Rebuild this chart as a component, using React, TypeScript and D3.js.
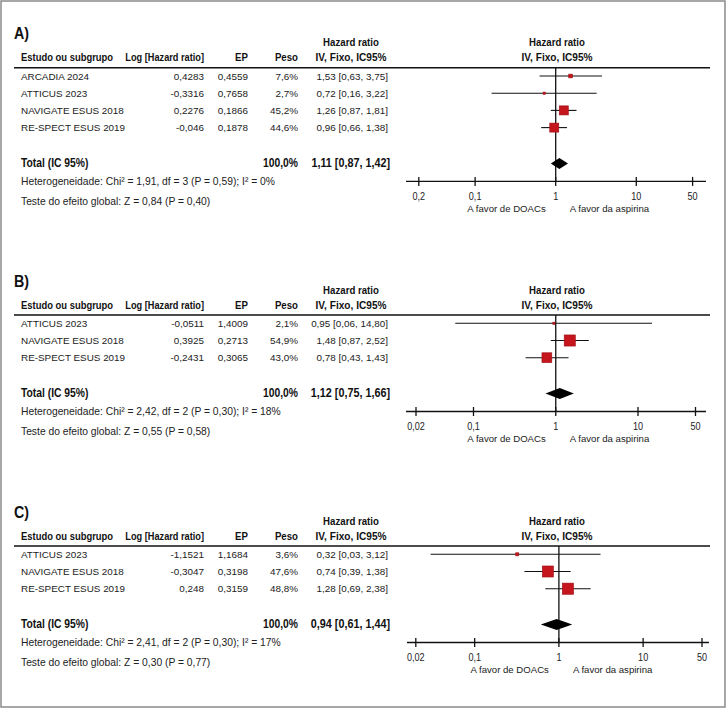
import React from 'react';
import * as d3 from 'd3';

// forest plot data, one inner list per panel (A, B, C)
const panelLabels = ['A)', 'B)', 'C)'];
const studyNames = [
  ['ARCADIA 2024', 'ATTICUS 2023', 'NAVIGATE ESUS 2018', 'RE-SPECT ESUS 2019'],
  ['ATTICUS 2023', 'NAVIGATE ESUS 2018', 'RE-SPECT ESUS 2019'],
  ['ATTICUS 2023', 'NAVIGATE ESUS 2018', 'RE-SPECT ESUS 2019'],
];
const logHr = [
  ['0,4283', '-0,3316', '0,2276', '-0,046'],
  ['-0,0511', '0,3925', '-0,2431'],
  ['-1,1521', '-0,3047', '0,248'],
];
const ep = [
  [0.4559, 0.7658, 0.1866, 0.1878],
  [1.4009, 0.2713, 0.3065],
  [1.1684, 0.3198, 0.3159],
];
const peso = [
  [7.6, 2.7, 45.2, 44.6],
  [2.1, 54.9, 43.0],
  [3.6, 47.6, 48.8],
];
const hr = [
  [1.53, 0.72, 1.26, 0.96],
  [0.95, 1.48, 0.78],
  [0.32, 0.74, 1.28],
];
const ciLow = [
  [0.63, 0.16, 0.87, 0.66],
  [0.06, 0.87, 0.43],
  [0.03, 0.39, 0.69],
];
const ciHigh = [
  [3.75, 3.22, 1.81, 1.38],
  [14.8, 2.52, 1.43],
  [3.12, 1.38, 2.38],
];
const totalHr = [1.11, 1.12, 0.94];
const totalLow = [0.87, 0.75, 0.61];
const totalHigh = [1.42, 1.66, 1.44];
const hetChi = ['1,91', '2,42', '2,41'];
const hetDf = ['3', '2', '2'];
const hetP = ['0,59', '0,30', '0,30'];
const hetI2 = ['0%', '18%', '17%'];
const zValue = ['0,84', '0,55', '0,30'];
const zP = ['0,40', '0,58', '0,77'];
const tickValues = [0.02, 0.1, 1, 10, 50];
const tickLabels = [
  ['0,2', '0,1', '1', '10', '50'],
  ['0,02', '0,1', '1', '10', '50'],
  ['0,02', '0,1', '1', '10', '50'],
];

// layout
const panelTop = [67.7, 315, 546];
const xRanges = [[418.8, 692.6], [416, 695.5], [415.8, 702]];
const axisExtent = [[406, 706], [406, 706], [407, 709]];
const markerMax = [13.5, 15, 16];
const rowStep = 17.2;

const bodyFont = "'Liberation Sans', Arial, sans-serif";
const textCol = '#222';
const squeeze = 0.84; // no condensed face installed, so narrow the glyphs

const f2 = (v: number) => v.toFixed(2).replace('.', ',');
const f4 = (v: number) => v.toFixed(4).replace('.', ',');
const f1 = (v: number) => v.toFixed(1).replace('.', ',') + '%';

type NT = { x: number; y: number; anchor?: string; size?: number; bold?: boolean; sx?: number; children: React.ReactNode };
const Narrow = ({ x, y, anchor = 'start', size = 11.5, bold = true, sx = squeeze, children }: NT) => (
  <text
    transform={`translate(${x},${y}) scale(${sx},1)`}
    textAnchor={anchor}
    style={{ fontFamily: bodyFont, fontWeight: bold ? 700 : 400, fontSize: size, fill: bold ? '#111' : textCol }}
  >
    {children}
  </text>
);

const Panel = ({ p }: { p: number }) => {
  const L = panelTop[p];
  const n = studyNames[p].length;
  const x = d3.scaleLog().domain([0.02, 50]).range(xRanges[p]);
  const size = d3.scaleSqrt().domain([0, 100]).range([0, markerMax[p]]);
  const rowY = (i: number) => L + 12 + i * rowStep;
  const totalY = L + 12 + (n + 1) * rowStep + 1;
  const diamondY = totalY - 3.3;
  const axisY = diamondY + 18;
  const hetY = totalY + 18.5;
  const testY = hetY + 19.7;
  const body = { fontFamily: bodyFont, fontSize: 9.9, fill: textCol };
  const note = { fontFamily: bodyFont, fontSize: 10.3, fill: textCol };

  const diamond = d3.line()([
    [x(totalLow[p]), diamondY],
    [x(totalHr[p]), diamondY - 5.5],
    [x(totalHigh[p]), diamondY],
    [x(totalHr[p]), diamondY + 5.5],
  ]) + 'Z';

  return (
    <g>
      <Narrow x={14} y={L - 28.5} size={17}>{panelLabels[p]}</Narrow>
      {/* table header */}
      <Narrow x={351} y={L - 21.5} anchor="middle">Hazard ratio</Narrow>
      <Narrow x={21} y={L - 6.5} sx={0.82}>Estudo ou subgrupo</Narrow>
      <Narrow x={204} y={L - 6.5} anchor="end" sx={0.8}>Log [Hazard ratio]</Narrow>
      <Narrow x={248} y={L - 6.5} anchor="end">EP</Narrow>
      <Narrow x={298} y={L - 6.5} anchor="end">Peso</Narrow>
      <Narrow x={351} y={L - 6.5} anchor="middle" sx={0.88}>IV, Fixo, IC95%</Narrow>
      <Narrow x={557} y={L - 21.5} anchor="middle">Hazard ratio</Narrow>
      <Narrow x={557} y={L - 6.5} anchor="middle" sx={0.88}>IV, Fixo, IC95%</Narrow>
      <line x1={14} x2={710} y1={L} y2={L} stroke="#111" strokeWidth={1.5} />

      {studyNames[p].map((name, i) => (
        <g key={name}>
          <text x={21} y={rowY(i)} style={body}>{name}</text>
          <text x={204} y={rowY(i)} textAnchor="end" style={body}>{logHr[p][i]}</text>
          <text x={248} y={rowY(i)} textAnchor="end" style={body}>{f4(ep[p][i])}</text>
          <text x={298} y={rowY(i)} textAnchor="end" style={body}>{f1(peso[p][i])}</text>
          <text x={388} y={rowY(i)} textAnchor="end" style={body}>
            {`${f2(hr[p][i])} [${f2(ciLow[p][i])}, ${f2(ciHigh[p][i])}]`}
          </text>
        </g>
      ))}

      <Narrow x={21} y={totalY} size={12} sx={0.86}>Total (IC 95%)</Narrow>
      <Narrow x={298} y={totalY} anchor="end" size={12} sx={0.86}>100,0%</Narrow>
      <Narrow x={390} y={totalY} anchor="end" size={12} sx={0.9}>
        {`${f2(totalHr[p])} [${f2(totalLow[p])}, ${f2(totalHigh[p])}]`}
      </Narrow>
      <text x={21} y={hetY} style={note}>
        {`Heterogeneidade: Chi² = ${hetChi[p]}, df = ${hetDf[p]} (P = ${hetP[p]}); I² = ${hetI2[p]}`}
      </text>
      <text x={21} y={testY} style={note}>
        {`Teste do efeito global: Z = ${zValue[p]} (P = ${zP[p]})`}
      </text>

      {/* forest */}
      <line x1={x(1)} x2={x(1)} y1={L} y2={axisY} stroke="#111" strokeWidth={1.3} />
      {studyNames[p].map((name, i) => {
        const cy = rowY(i) - 3.7;
        const s = Math.max(size(peso[p][i]), 2);
        return (
          <g key={'m' + name}>
            <line x1={x(ciLow[p][i])} x2={x(ciHigh[p][i])} y1={cy} y2={cy} stroke="#111" strokeWidth={1.1} />
            <rect x={x(hr[p][i]) - s / 2} y={cy - s / 2} width={s} height={s}
              fill="#c4161c" stroke="#9c1015" strokeWidth={0.6} />
          </g>
        );
      })}
      <path d={diamond} fill="#000" />

      <line x1={axisExtent[p][0]} x2={axisExtent[p][1]} y1={axisY} y2={axisY} stroke="#111" strokeWidth={1.3} />
      {tickValues.map((t) => (
        <line key={'t' + t} x1={x(t)} x2={x(t)} y1={axisY - 4.5} y2={axisY + 4.5} stroke="#111" strokeWidth={1.3} />
      ))}
      {tickValues.map((t, i) => (
        <Narrow key={'l' + t} x={x(t)} y={axisY + 18.5} anchor="middle" size={10.8} bold={false}>
          {tickLabels[p][i]}
        </Narrow>
      ))}
      <text x={x(1) - 10} y={axisY + 30.5} textAnchor="end" style={{ ...body, fontSize: 9.6 }}>A favor de DOACs</text>
      <text x={x(1) + 14} y={axisY + 30.5} style={{ ...body, fontSize: 9.6 }}>A favor da aspirina</text>
    </g>
  );
};

export default function App() {
  return (
    <>
      <style>{'body{margin:0}'}</style>
      <svg width={726} height={708} style={{ display: 'block', background: '#fff' }}>
        <rect x={1} y={1} width={724} height={706} fill="#fff" stroke="#8a8a8a" strokeWidth={1.5} />
        {panelLabels.map((_, p) => <Panel key={p} p={p} />)}
      </svg>
    </>
  );
}
